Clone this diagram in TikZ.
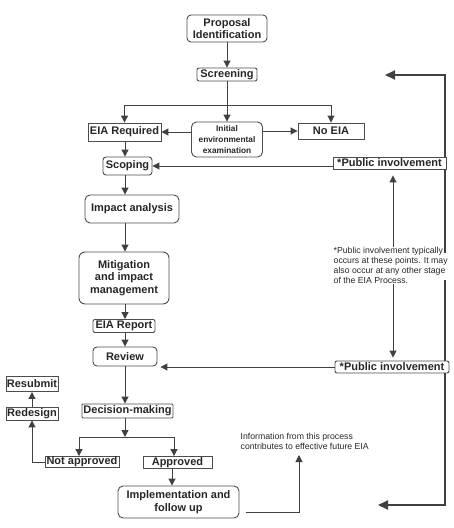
\documentclass[tikz,border=0pt]{standalone}
\usepackage{fontspec}
\setmainfont{Liberation Sans}
\usetikzlibrary{arrows.meta,calc}
\tikzset{
  box/.style={draw=black!70, line width=0.9pt, inner sep=0pt, align=center,
    font=\bfseries\fontsize{11}{12.3}\selectfont, text=black!85},
  rbox/.style={box, rounded corners=#1},
  rbox/.default=4pt,
  ln/.style={draw=black!75, line width=1pt},
  arr/.style={ln, -{Triangle[length=7pt,width=7pt]}},
  thkl/.style={draw=black!75, line width=2pt},
  thk/.style={thkl, -{Triangle[length=10pt,width=9pt]}},
  notetext/.style={inner sep=0pt, align=left, text=black!85,
    font=\fontsize{8.7}{10}\selectfont}
}
\begin{document}
\begin{tikzpicture}[x=1pt,y=-1pt]
\useasboundingbox (0,0) rectangle (454,528);

% nodes
\node[rbox=4pt, minimum width=80pt, minimum height=27pt] (prop) at (227,28.5) {Proposal\\Identification};
\node[rbox=2pt, minimum width=60pt, minimum height=13pt] (scr) at (227,74.5) {Screening};
\node[box, minimum width=73pt, minimum height=18pt] (eia) at (124.5,132) {EIA Required};
\node[rbox=5pt, minimum width=71pt, minimum height=35pt,
      font=\bfseries\fontsize{8.3}{10.7}\selectfont] (iee) at (227,139.5) {Initial\\environmental\\examination};
\node[box, minimum width=66pt, minimum height=16pt] (noeia) at (331,131) {No EIA};
\node[rbox=3pt, minimum width=49pt, minimum height=18pt] (scop) at (127.5,166) {Scoping};
\node[box, minimum width=113pt, minimum height=12pt] (pi1) at (389.5,163) {*Public involvement};
\node[rbox=5pt, minimum width=94pt, minimum height=28pt] (imp) at (132,209) {Impact analysis};
\node[rbox=6pt, minimum width=90pt, minimum height=52pt] (mit) at (124,278) {Mitigation\\and impact\\management};
\node[rbox=2pt, minimum width=62pt, minimum height=13pt] (rep) at (124,326) {EIA Report};
\node[rbox=4pt, minimum width=64pt, minimum height=19pt] (rev) at (125,356.5) {Review};
\node[rbox=2pt, minimum width=114pt, minimum height=12pt] (pi2) at (392,367) {*Public involvement};
\node[rbox=1pt, minimum width=91pt, minimum height=14pt] (dec) at (127.5,411) {Decision-making};
\node[box, minimum width=74pt, minimum height=11pt] (notap) at (82,462) {Not approved};
\node[box, minimum width=69pt, minimum height=12pt] (ap) at (177.5,462.5) {Approved};
\node[rbox=5pt, minimum width=121pt, minimum height=32pt] (impl) at (178.5,502) {Implementation and\\follow up};
\node[box, minimum width=52pt, minimum height=13pt] (redes) at (32,413.5) {Redesign};
\node[box, minimum width=52pt, minimum height=15pt] (resub) at (32,384) {Resubmit};

\node[notetext, anchor=north west] (note) at (333.5,247) {*Public involvement typically\\occurs at these points. It may\\also occur at any other stage\\of the EIA Process.};
\node[notetext, anchor=north west] (info) at (240.5,432.5) {Information from this process\\contributes to effective future EIA};

% coordinates
\coordinate (cx) at (125,0);
\coordinate (b1) at (227,105);
\coordinate (b2) at (125,437);
\coordinate (b2l) at (79,437);
\coordinate (b2r) at (174,437);
\coordinate (ax) at (172,0);
\coordinate (itip) at (299,455);
\coordinate (vx) at (393,0);
\coordinate (tx) at (445,0);
\coordinate (ttip) at (385,75);
\coordinate (btip) at (378,505);

% main flow
\draw[arr] (prop) -- (scr);
\draw[arr] (scr.south) -- (iee.north);
\draw[arr] (b1) -| (eia.north);
\draw[arr] (b1) -| (noeia.north);
\draw[arr] (iee.west |- eia) -- (eia.east);
\draw[arr] (iee.east |- noeia) -- (noeia.west);
\draw[arr] (cx |- eia.south) -- (cx |- scop.north);
\draw[arr] (cx |- scop.south) -- (cx |- imp.north);
\draw[arr] (cx |- imp.south) -- (cx |- mit.north);
\draw[arr] (cx |- mit.south) -- (cx |- rep.north);
\draw[arr] (cx |- rep.south) -- (cx |- rev.north);
\draw[arr] (cx |- rev.south) -- (cx |- dec.north);
\draw[arr] (cx |- dec.south) -- (b2);
\draw[ln] (b2l) -- (b2r);
\draw[arr] (b2l) -- (b2l |- notap.north);
\draw[arr] (b2r) -- (b2r |- ap.north);
\draw[arr] (ax |- ap.south) -- (ax |- impl.north);
\draw[arr] ([shift={(7pt,-10pt)}]impl.east) -| (itip);
\draw[arr] (notap.west) -| (redes.south);
\draw[arr] (redes.north) -- (resub.south);

% public involvement
\draw[arr] (pi1.west |- scop.east) -- (scop.east);
\draw[arr, shorten >=3pt] (pi2.west) -- (pi2.west -| rev.east);
\draw[arr, shorten >=6pt] (vx |- note.north) -- (vx |- pi1.south);
\draw[arr, shorten >=3pt] (vx |- note.south) -- (vx |- pi2.north);

% thick bracket
\draw[thk] (tx |- pi1.north) |- (ttip);
\draw[thkl] (tx |- pi1.south) -- ([yshift=-6pt]tx |- note.north);
\draw[thkl] ([yshift=4pt]tx |- note.south) -- (tx |- pi2.north);
\draw[thk] (tx |- pi2.south) |- (btip);
\end{tikzpicture}
\end{document}
